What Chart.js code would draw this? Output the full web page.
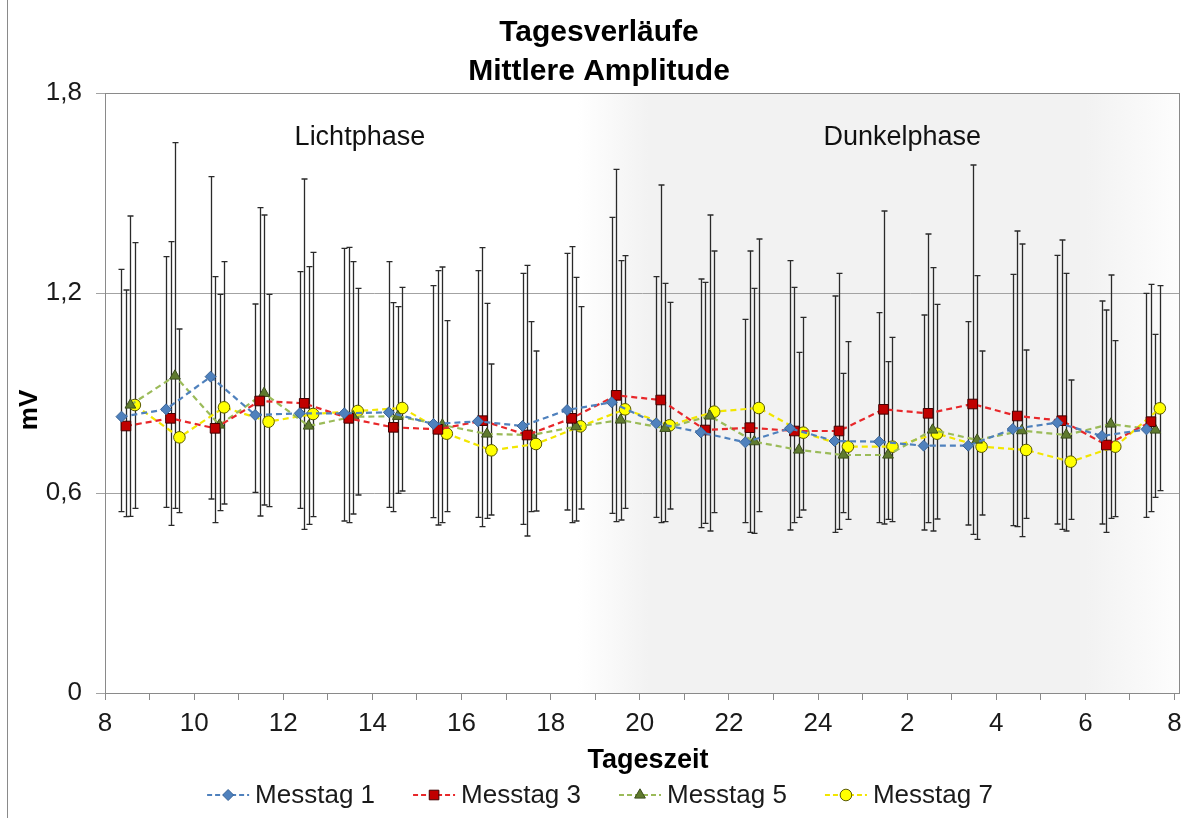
<!DOCTYPE html>
<html>
<head>
<meta charset="utf-8">
<script src="https://cdn.jsdelivr.net/npm/chart.js@4/dist/chart.umd.min.js"></script>
<style>
  html, body { margin: 0; padding: 0; background: #fff; }
</style>
</head>
<body>
<canvas id="chart" width="1190" height="818"></canvas>
<script>
// Stunden (8 Uhr bis 7 Uhr am Folgetag, 25..31 = 1..7 Uhr)
const stunden = [8, 9, 10, 11, 12, 13, 14, 15, 16, 17, 18, 19, 20, 21, 22, 23, 24, 25, 26, 27, 28, 29, 30, 31];
// Messzeitpunkt innerhalb der Stunde je Messtag (h)
const messOffset = [0.37, 0.47, 0.57, 0.67];

const serien = ["Messtag 1", "Messtag 3", "Messtag 5", "Messtag 7"];

const messtag1 = [0.829, 0.851, 0.949, 0.834, 0.839, 0.839, 0.842, 0.807, 0.815, 0.801, 0.849, 0.872, 0.809, 0.782, 0.752, 0.794, 0.756, 0.754, 0.742, 0.742, 0.792, 0.811, 0.771, 0.791];
const messtag3 = [0.801, 0.824, 0.794, 0.876, 0.869, 0.824, 0.797, 0.791, 0.817, 0.774, 0.824, 0.893, 0.879, 0.789, 0.796, 0.786, 0.786, 0.851, 0.839, 0.867, 0.831, 0.817, 0.744, 0.814];
const messtag5 = [0.864, 0.951, 0.804, 0.899, 0.801, 0.829, 0.830, 0.804, 0.777, 0.774, 0.799, 0.819, 0.794, 0.831, 0.754, 0.729, 0.714, 0.714, 0.789, 0.759, 0.787, 0.774, 0.807, 0.789];
const messtag7 = [0.864, 0.767, 0.857, 0.814, 0.837, 0.846, 0.855, 0.778, 0.728, 0.747, 0.800, 0.851, 0.803, 0.844, 0.855, 0.781, 0.739, 0.739, 0.778, 0.739, 0.729, 0.694, 0.739, 0.854];

// obere / untere Enden der Fehlerbalken
const oben1 = [1.271, 1.309, 1.549, 1.167, 1.264, 1.334, 1.294, 1.222, 1.267, 1.259, 1.319, 1.427, 1.249, 1.242, 1.121, 1.297, 1.191, 1.141, 1.134, 1.114, 1.256, 1.313, 1.176, 1.199];
const oben3 = [1.209, 1.354, 1.249, 1.456, 1.542, 1.337, 1.171, 1.267, 1.336, 1.283, 1.339, 1.571, 1.524, 1.232, 1.326, 1.217, 1.259, 1.446, 1.377, 1.584, 1.386, 1.359, 1.149, 1.226];
const oben5 = [1.431, 1.651, 1.196, 1.434, 1.279, 1.294, 1.159, 1.278, 1.169, 1.114, 1.247, 1.297, 1.229, 1.434, 1.214, 1.022, 0.959, 0.994, 1.276, 1.252, 1.347, 1.259, 1.254, 1.076];
const oben7 = [1.351, 1.092, 1.294, 1.196, 1.322, 1.214, 1.217, 1.117, 0.987, 1.026, 1.159, 1.312, 1.172, 1.326, 1.362, 1.127, 1.054, 1.067, 1.166, 1.026, 1.029, 0.939, 1.057, 1.222];
const unten1 = [0.544, 0.557, 0.582, 0.602, 0.554, 0.516, 0.557, 0.526, 0.527, 0.506, 0.549, 0.539, 0.527, 0.496, 0.511, 0.489, 0.482, 0.511, 0.489, 0.504, 0.502, 0.507, 0.507, 0.527];
const unten3 = [0.529, 0.503, 0.511, 0.531, 0.491, 0.511, 0.544, 0.504, 0.499, 0.471, 0.511, 0.514, 0.511, 0.509, 0.482, 0.511, 0.491, 0.507, 0.511, 0.476, 0.499, 0.491, 0.482, 0.544];
const unten5 = [0.530, 0.554, 0.547, 0.564, 0.506, 0.537, 0.599, 0.511, 0.524, 0.544, 0.516, 0.519, 0.514, 0.486, 0.479, 0.527, 0.541, 0.521, 0.486, 0.461, 0.469, 0.486, 0.524, 0.587];
const unten7 = [0.554, 0.541, 0.567, 0.559, 0.529, 0.594, 0.606, 0.544, 0.534, 0.546, 0.552, 0.554, 0.552, 0.541, 0.544, 0.549, 0.521, 0.514, 0.522, 0.534, 0.524, 0.521, 0.529, 0.607];

const xTicks = [8, 9, 10, 11, 12, 13, 14, 15, 16, 17, 18, 19, 20, 21, 22, 23, 24, 25, 26, 27, 28, 29, 30, 31, 32];
const xTickLabels = ["8", "", "10", "", "12", "", "14", "", "16", "", "18", "", "20", "", "22", "", "24", "", "2", "", "4", "", "6", "", "8"];
const yTicks = [0, 0.6, 1.2, 1.8];
const yTickLabels = ["0", "0,6", "1,2", "1,8"];

const werte = [messtag1, messtag3, messtag5, messtag7];
const oben = [oben1, oben3, oben5, oben7];
const unten = [unten1, unten3, unten5, unten7];

const stil = [
  { line: "#4f81bd", fill: "#4f81bd", border: "#3a6497", point: "rectRot", r: 5.5 },
  { line: "#e8272a", fill: "#c00000", border: "#400000", point: "rect", r: 6.8 },
  { line: "#9bbb59", fill: "#5f7a2e", border: "#3b4d1c", point: "triangle", r: 6.2 },
  { line: "#f2e600", fill: "#ffff00", border: "#5a5a00", point: "circle", r: 5.8 },
];

const FONT = "'Liberation Sans', Arial, sans-serif";

const datasets = serien.map((name, s) => ({
  label: name,
  data: stunden.map((h, i) => ({ x: h + messOffset[s], y: werte[s][i] })),
  errOben: oben[s],
  errUnten: unten[s],
  showLine: true,
  borderColor: stil[s].line,
  borderWidth: 2.2,
  borderDash: [6, 4],
  pointStyle: stil[s].point,
  pointRadius: stil[s].r,
  pointBackgroundColor: stil[s].fill,
  pointBorderColor: stil[s].border,
  pointBorderWidth: 1,
  tension: 0,
}));

function marker(ctx, s, x, y) {
  ctx.fillStyle = stil[s].fill;
  ctx.strokeStyle = stil[s].border;
  ctx.lineWidth = 1;
  ctx.setLineDash([]);
  Chart.helpers.drawPoint(ctx, { pointStyle: stil[s].point, radius: stil[s].r, rotation: 0, borderWidth: 1 }, x, y);
}

const deko = {
  id: "deko",
  beforeDraw(chart) {
    const { ctx, chartArea: a, scales } = chart;
    const xs = scales.x;
    ctx.save();
    ctx.fillStyle = "#fff";
    ctx.fillRect(0, 0, chart.width, chart.height);
    // Dunkelphase, weich ausgeblendet
    const x0 = xs.getPixelForValue(18.6);
    const g = ctx.createLinearGradient(x0, 0, a.right, 0);
    const f = (v) => (xs.getPixelForValue(v) - x0) / (a.right - x0);
    g.addColorStop(0, "#ffffff");
    g.addColorStop(f(20.2), "#f2f2f2");
    g.addColorStop(f(30.0), "#f2f2f2");
    g.addColorStop(1, "#fdfdfd");
    ctx.fillStyle = g;
    ctx.fillRect(x0, a.top, a.right - x0, a.bottom - a.top);
    ctx.restore();
  },
  beforeDatasetsDraw(chart) {
    const { ctx, scales } = chart;
    const xs = scales.x, ys = scales.y;
    ctx.save();
    ctx.strokeStyle = "#2a2a2a";
    ctx.lineWidth = 1.3;
    chart.data.datasets.forEach((ds) => {
      ds.data.forEach((p, i) => {
        const px = Math.round(xs.getPixelForValue(p.x)) + 0.5;
        const pt = ys.getPixelForValue(ds.errOben[i]);
        const pb = ys.getPixelForValue(ds.errUnten[i]);
        ctx.beginPath();
        ctx.moveTo(px, pt); ctx.lineTo(px, pb);
        ctx.moveTo(px - 3, pt); ctx.lineTo(px + 3, pt);
        ctx.moveTo(px - 3, pb); ctx.lineTo(px + 3, pb);
        ctx.stroke();
      });
    });
    ctx.restore();
  },
  afterDraw(chart) {
    const { ctx, chartArea: a, scales } = chart;
    const xs = scales.x, ys = scales.y;
    ctx.save();
    // Rahmen der Zeichenfläche
    ctx.strokeStyle = "#8a8a8a";
    ctx.lineWidth = 1;
    ctx.strokeRect(Math.round(a.left) + 0.5, Math.round(a.top) + 0.5, Math.round(a.right - a.left), Math.round(a.bottom - a.top));
    // äußerer Rand links
    ctx.beginPath();
    ctx.moveTo(7.5, 0); ctx.lineTo(7.5, chart.height);
    ctx.stroke();

    ctx.fillStyle = "#000";
    ctx.textAlign = "center";
    ctx.textBaseline = "middle";
    ctx.font = "bold 30px " + FONT;
    ctx.fillText("Tagesverläufe", 599, 33);
    ctx.fillText("Mittlere Amplitude", 599, 72);

    ctx.font = "bold 27px " + FONT;
    ctx.fillText("Tageszeit", 648, 761);
    ctx.save();
    ctx.translate(30, 410);
    ctx.rotate(-Math.PI / 2);
    ctx.font = "bold 26px " + FONT;
    ctx.fillText("mV", 0, 0);
    ctx.restore();

    ctx.fillStyle = "#111";
    ctx.font = "27px " + FONT;
    ctx.fillText("Lichtphase", xs.getPixelForValue(13.72), ys.getPixelForValue(1.665));
    ctx.fillText("Dunkelphase", xs.getPixelForValue(25.89), ys.getPixelForValue(1.665));

    // Legende
    ctx.font = "26px " + FONT;
    ctx.textAlign = "left";
    const sample = 42, gap = 6, space = 38;
    const widths = serien.map((n) => sample + gap + ctx.measureText(n).width);
    const total = widths.reduce((p, w) => p + w, 0) + space * (serien.length - 1);
    let lx = 600 - total / 2;
    const ly = 795;
    serien.forEach((name, s) => {
      ctx.strokeStyle = stil[s].line;
      ctx.lineWidth = 2;
      ctx.setLineDash([5, 3]);
      ctx.beginPath();
      ctx.moveTo(lx, ly); ctx.lineTo(lx + sample, ly);
      ctx.stroke();
      marker(ctx, s, lx + sample / 2, ly);
      ctx.fillStyle = "#1a1a1a";
      ctx.fillText(name, lx + sample + gap, ly + 1);
      lx += widths[s] + space;
    });
    ctx.restore();
  },
};

new Chart(document.getElementById("chart"), {
  type: "scatter",
  data: { datasets: datasets },
  options: {
    responsive: false,
    animation: false,
    layout: { padding: { top: 93, right: 11, left: 0, bottom: 0 } },
    plugins: { legend: { display: false }, title: { display: false }, tooltip: { enabled: false } },
    scales: {
      x: {
        type: "linear",
        min: 8,
        max: 32.1,
        afterBuildTicks: (s) => { s.ticks = xTicks.map((v) => ({ value: v })); },
        afterFit: (s) => { s.height = 125; },
        ticks: {
          autoSkip: false,
          maxRotation: 0,
          padding: 8,
          color: "#1a1a1a",
          font: { family: FONT, size: 26 },
          callback: (v, i) => xTickLabels[i],
        },
        grid: { drawOnChartArea: false, tickLength: 7, color: "#8a8a8a" },
        border: { color: "#8a8a8a" },
      },
      y: {
        min: 0,
        max: 1.8,
        afterBuildTicks: (s) => { s.ticks = yTicks.map((v) => ({ value: v })); },
        afterFit: (s) => { s.width = 105; },
        ticks: {
          padding: 14,
          color: "#1a1a1a",
          font: { family: FONT, size: 26 },
          callback: (v, i) => yTickLabels[i],
        },
        grid: { color: "#a3a3a3", tickLength: 9 },
        border: { color: "#a3a3a3" },
      },
    },
  },
  plugins: [deko],
});
</script>
</body>
</html>
